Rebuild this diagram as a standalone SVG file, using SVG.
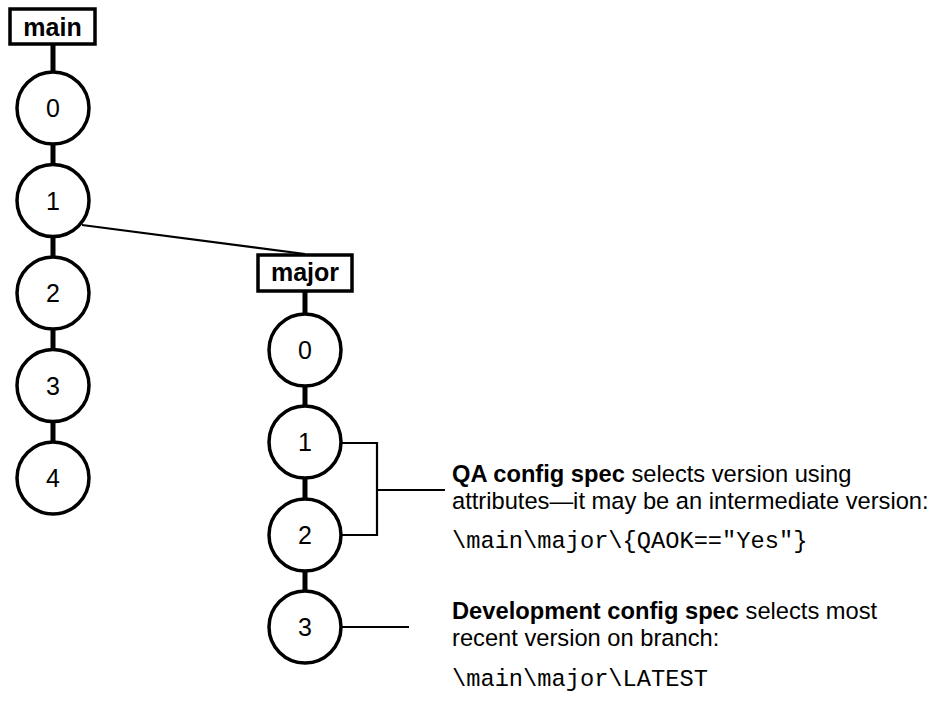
<svg xmlns="http://www.w3.org/2000/svg" width="932" height="701" viewBox="0 0 932 701">
<style>
.bg{fill:#fff}
.box{fill:#fff;stroke:#000;stroke-width:3.5}
.ver{fill:#fff;stroke:#000;stroke-width:3.5}
.stem{stroke:#000;stroke-width:5;fill:none}
.thin{stroke:#000;stroke-width:2.2;fill:none}
.lbl{font-family:"Liberation Sans",Arial,sans-serif;font-weight:bold;font-size:25px;text-anchor:middle;fill:#000}
.num{font-family:"Liberation Sans",Arial,sans-serif;font-size:25px;text-anchor:middle;fill:#000}
.txt{font-family:"Liberation Sans",Arial,sans-serif;font-size:23.7px;fill:#000}
.b{font-weight:bold}
.code{font-family:"Liberation Mono","Courier New",monospace;font-size:23.7px;fill:#000}
</style>
<rect class="bg" x="0" y="0" width="932" height="701"/>
<g id="connectors">
<line class="stem" x1="53" y1="44" x2="53" y2="478"/>
<line class="stem" x1="305" y1="291" x2="305" y2="627"/>
<line class="thin" x1="82" y1="225" x2="305" y2="254"/>
<polyline class="thin" points="341,443 377,443 377,535 341,535"/>
<line class="thin" x1="377" y1="490" x2="445" y2="490"/>
<line class="thin" x1="341" y1="627" x2="409" y2="627"/>
</g>
<g id="main">
<rect class="box" x="10" y="9" width="85" height="35"/>
<text class="lbl" x="52.5" y="35.5">main</text>
</g>
<g id="main-0"><circle class="ver" cx="53" cy="108" r="36"/><text class="num" x="53" y="117">0</text></g>
<g id="main-1"><circle class="ver" cx="53" cy="200.5" r="36"/><text class="num" x="53" y="209.5">1</text></g>
<g id="main-2"><circle class="ver" cx="53" cy="293" r="36"/><text class="num" x="53" y="302">2</text></g>
<g id="main-3"><circle class="ver" cx="53" cy="385.5" r="36"/><text class="num" x="53" y="394.5">3</text></g>
<g id="main-4"><circle class="ver" cx="53" cy="478" r="36"/><text class="num" x="53" y="487">4</text></g>
<g id="major">
<rect class="box" x="258" y="255" width="94" height="36"/>
<text class="lbl" x="305" y="281">major</text>
</g>
<g id="major-0"><circle class="ver" cx="305" cy="350" r="36"/><text class="num" x="305" y="359">0</text></g>
<g id="major-1"><circle class="ver" cx="305" cy="442" r="36"/><text class="num" x="305" y="451">1</text></g>
<g id="major-2"><circle class="ver" cx="305" cy="535" r="36"/><text class="num" x="305" y="544">2</text></g>
<g id="major-3"><circle class="ver" cx="305" cy="627" r="36"/><text class="num" x="305" y="636">3</text></g>
<g id="qa-note">
<text class="txt" x="452" y="482"><tspan class="b">QA config spec</tspan> selects version using</text>
<text class="txt" x="452" y="509">attributes—it may be an intermediate version:</text>
<text class="code" x="452" y="548">\main\major\{QAOK=="Yes"}</text>
</g>
<g id="dev-note">
<text class="txt" x="452" y="619"><tspan class="b">Development config spec</tspan> selects most</text>
<text class="txt" x="452" y="646">recent version on branch:</text>
<text class="code" x="452" y="686">\main\major\LATEST</text>
</g>
</svg>
